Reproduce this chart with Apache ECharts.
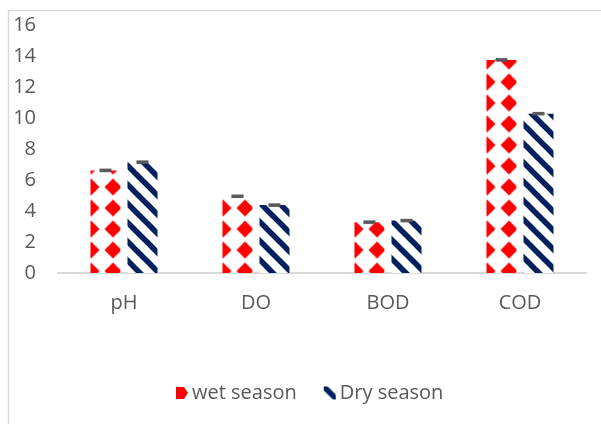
<!DOCTYPE html>
<html>
<head>
<meta charset="utf-8">
<script src="https://cdn.jsdelivr.net/npm/echarts@6/dist/echarts.min.js"></script>
<style>
  html, body { margin: 0; padding: 0; background: #ffffff; }
  #chart { width: 601px; height: 424px; }
</style>
</head>
<body>
<div id="chart"></div>
<script>
// Water quality parameters by season
const categories = ['pH', 'DO', 'BOD', 'COD'];
const wetSeason = [6.62, 4.95, 3.28, 13.75];
const drySeason = [7.15, 4.38, 3.38, 10.28];
const wetError = [0.05, 0.05, 0.05, 0.05];
const dryError = [0.05, 0.05, 0.05, 0.05];
const yTicks = [0, 2, 4, 6, 8, 10, 12, 14, 16];

const FONT = 'Open Sans';
const FONT_SIZE = 20;
const TEXT_COLOR = '#595959';
const RED = '#ff0000';
const NAVY = '#002060';

// Red diamond tile
function diamondPattern() {
  const c = document.createElement('canvas');
  const w = 22, h = 21;
  c.width = w; c.height = h;
  const ctx = c.getContext('2d');
  ctx.fillStyle = '#ffffff';
  ctx.fillRect(0, 0, w, h);
  ctx.fillStyle = RED;
  const r = 8.5, mx = w / 2, my = h / 2;
  ctx.beginPath();
  ctx.moveTo(mx, my - r);
  ctx.lineTo(mx + r, my);
  ctx.lineTo(mx, my + r);
  ctx.lineTo(mx - r, my);
  ctx.closePath();
  ctx.fill();
  return c;
}

// Navy diagonal stripe tile (top-left to bottom-right)
function stripePattern() {
  const c = document.createElement('canvas');
  const s = 19;
  c.width = s; c.height = s;
  const ctx = c.getContext('2d');
  ctx.fillStyle = '#ffffff';
  ctx.fillRect(0, 0, s, s);
  ctx.strokeStyle = NAVY;
  ctx.lineWidth = 5.5;
  for (let k = -1; k <= 1; k++) {
    ctx.beginPath();
    ctx.moveTo(k * s - 2, -2);
    ctx.lineTo(k * s + s + 2, s + 2);
    ctx.stroke();
  }
  return c;
}

const wetFill = { image: diamondPattern(), repeat: 'repeat', x: 14, y: 8.5 };
const dryFill = { image: stripePattern(), repeat: 'repeat' };

const BAR_W = 30;
const BAR_GAP_PX = 7;

// Error bar renderer; offset is the bar's shift from the category centre
function errorRenderer(offset) {
  return function (params, api) {
    const i = api.value(0);
    const v = api.value(1);
    const e = api.value(2);
    const hi = api.coord([i, v + e]);
    const lo = api.coord([i, v - e]);
    const x = hi[0] + offset;
    const cap = 6;
    const style = { stroke: '#595959', lineWidth: 2 };
    return {
      type: 'group',
      children: [
        { type: 'line', shape: { x1: x, y1: hi[1], x2: x, y2: lo[1] }, style },
        { type: 'line', shape: { x1: x - cap, y1: hi[1], x2: x + cap, y2: hi[1] }, style },
        { type: 'line', shape: { x1: x - cap, y1: lo[1], x2: x + cap, y2: lo[1] }, style }
      ]
    };
  };
}

const chart = echarts.init(document.getElementById('chart'), null, { renderer: 'canvas' });

const option = {
  animation: false,
  backgroundColor: '#ffffff',
  textStyle: { fontFamily: FONT },
  graphic: [{
    type: 'rect',
    shape: { x: 8.5, y: 10.5, width: 620, height: 440 },
    style: { fill: 'none', stroke: '#d9d9d9', lineWidth: 1.5 },
    silent: true
  }],
  grid: { left: 58, right: 15, top: 25, bottom: 151 },
  legend: {
    data: [
      {
        name: 'wet season',
        icon: 'path://M0,0 L8,0 L12,6 L8,12 L0,12 Z',
        itemStyle: { color: RED }
      },
      { name: 'Dry season', icon: 'rect' }
    ],
    left: 171,
    top: 378,
    itemWidth: 12,
    itemHeight: 13,
    itemGap: 27,
    textStyle: { fontFamily: FONT, fontSize: FONT_SIZE, color: TEXT_COLOR, padding: [0, 0, 0, -1] }
  },
  xAxis: {
    type: 'category',
    data: categories,
    axisTick: { show: false },
    axisLine: { lineStyle: { color: '#d9d9d9', width: 2 } },
    axisLabel: { fontFamily: FONT, fontSize: FONT_SIZE, color: TEXT_COLOR, margin: 20 }
  },
  yAxis: {
    type: 'value',
    min: yTicks[0],
    max: yTicks[yTicks.length - 1],
    interval: 2,
    axisLine: { show: false },
    axisTick: { show: false },
    splitLine: { show: false },
    axisLabel: { fontFamily: FONT, fontSize: FONT_SIZE, color: TEXT_COLOR, margin: 22 }
  },
  series: [
    {
      name: 'wet season',
      type: 'bar',
      data: wetSeason,
      barWidth: BAR_W,
      barGap: (BAR_GAP_PX / BAR_W * 100).toFixed(1) + '%',
      itemStyle: { color: wetFill }
    },
    {
      name: 'Dry season',
      type: 'bar',
      data: drySeason,
      barWidth: BAR_W,
      itemStyle: { color: dryFill }
    },
    {
      name: 'wet error',
      type: 'custom',
      renderItem: errorRenderer(-(BAR_W + BAR_GAP_PX) / 2),
      data: wetSeason.map((v, i) => [i, v, wetError[i]]),
      z: 5
    },
    {
      name: 'dry error',
      type: 'custom',
      renderItem: errorRenderer((BAR_W + BAR_GAP_PX) / 2),
      data: drySeason.map((v, i) => [i, v, dryError[i]]),
      z: 5
    }
  ]
};

chart.setOption(option);
</script>
</body>
</html>
